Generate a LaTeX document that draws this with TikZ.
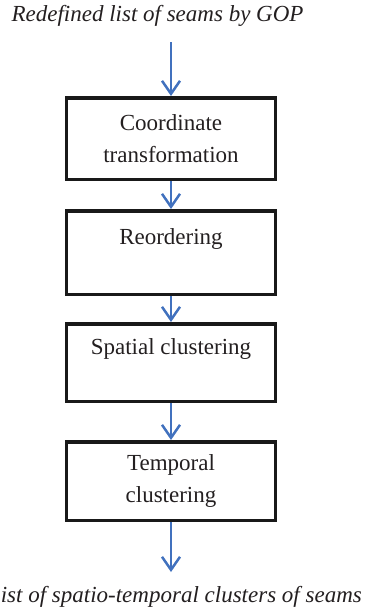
\documentclass[tikz,border=0pt]{standalone}
\usepackage{fontspec}
\setmainfont{Liberation Serif}
\usetikzlibrary{arrows.meta}
\definecolor{flowblue}{RGB}{65,113,190}
\definecolor{inkgray}{RGB}{35,31,32}
\tikzstyle{stage}=[draw=black!90,line width=3.5pt,minimum width=209pt,inner sep=0pt,align=center,text=inkgray,font=\fontsize{23}{31.5}\selectfont]
\tikzstyle{flow} = [draw=flowblue,line width=2.5pt,-{Straight Barb[length=13pt,width=18pt,line width=2.5pt]}]
\tikzstyle{iotext} = [inner sep=0pt,text=inkgray,font=\fontsize{23}{28}\selectfont\itshape]

\begin{document}
\begin{tikzpicture}[x=1pt,y=-1pt]
			\useasboundingbox (0,0) rectangle (365,614);

			% First we draw the stages
			\foreach \pos/\h/\name/\txt in {{(171,138.5)/81.5/coord/{Coordinate\\transformation}},
									{(171,252.5)/83.5/reorder/{Reordering\\~}},
									{(171,362.5)/77.5/spatial/{Spatial clustering\\~}},
									{(171,481)/78.5/temporal/{Temporal\\clustering}}}
			\node[stage,minimum height=\h pt] (\name) at \pos {\txt};

			% Input and output lists
			\node[iotext,anchor=base] (in) at (157.5,21) {Redefined list of seams by GOP};
			\node[iotext,anchor=base east] (out) at (362,602) {List of spatio-temporal clusters of seams};
			\coordinate (start) at (171,42);
			\coordinate (finish) at (171,572);

			% Connect the stages with arrows
			\foreach \source/ \dest in {start/coord, coord/reorder, reorder/spatial, spatial/temporal, temporal/finish}
			\path[flow] (\source) -- (\dest);

		\end{tikzpicture}
\end{document}
